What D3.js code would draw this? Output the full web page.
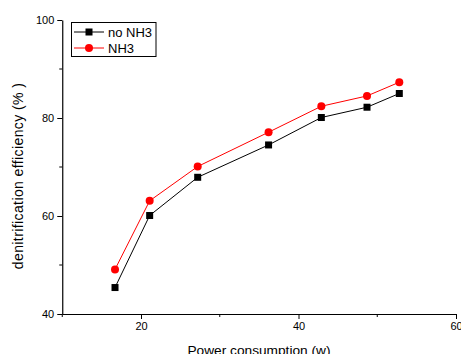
<!DOCTYPE html>
<html><head><meta charset="utf-8">
<script src="https://cdn.jsdelivr.net/npm/d3@7"></script>
<style>body{margin:0;background:#fff}svg{display:block;font-family:"Liberation Sans",Arial,sans-serif}</style>
</head><body><svg width="461" height="354"></svg>
<script>
const power = [16.7, 21.1, 27.2, 36.2, 42.9, 48.7, 52.8];
const noNH3 = [45.4, 60.1, 67.9, 74.5, 80.1, 82.2, 85.0];
const withNH3 = [49.1, 63.1, 70.1, 77.1, 82.4, 84.5, 87.3];
const xTicks = [20, 40, 60];
const yTicks = [40, 60, 80, 100];
const seriesNames = ["no NH3", "NH3"];

const svg = d3.select("svg");
const x = d3.scaleLinear().domain([10, 60]).range([62.25, 456]);
const y = d3.scaleLinear().domain([40, 100]).range([314, 20]);

// X axis
const xa = svg.append("g").attr("transform", "translate(0,314)");
xa.call(d3.axisBottom(x).tickValues(xTicks).tickSize(5).tickPadding(3).tickSizeOuter(0))
xa.selectAll(".tick text").attr("font-size", 11).attr("fill", "#000");
xa.append("g").selectAll("line").data([10, 30, 50]).join("line")
  .attr("x1", d => x(d)).attr("x2", d => x(d)).attr("y1", 0).attr("y2", 3).attr("stroke", "#000");

// Y axis
const ya = svg.append("g").attr("transform", "translate(62.25,0)");
ya.call(d3.axisLeft(y).tickValues(yTicks).tickSize(5).tickPadding(3).tickSizeOuter(0));
ya.selectAll(".tick text").attr("font-size", 11).attr("fill", "#000");
ya.append("g").selectAll("line").data([50, 70, 90]).join("line")
  .attr("x1", 0).attr("x2", -3).attr("y1", d => y(d)).attr("y2", d => y(d)).attr("stroke", "#000");
svg.selectAll(".domain").attr("stroke", "#000").attr("stroke-width", 1.2);

// Labels
svg.append("text").attr("x", 259).attr("y", 355).attr("text-anchor", "middle")
  .attr("font-size", 13.7).text("Power consumption (w)");
svg.append("text").attr("transform", "translate(23,176) rotate(-90)").attr("text-anchor", "middle")
  .attr("font-size", 14).attr("letter-spacing", 0.4).text("denitrification efficiency (% )");

const line = d3.line().x(d => x(d[0])).y(d => y(d[1]));
const s1 = power.map((p, i) => [p, noNH3[i]]);
const s2 = power.map((p, i) => [p, withNH3[i]]);

svg.append("path").attr("d", line(s1)).attr("fill", "none").attr("stroke", "#000").attr("stroke-width", 1);
svg.append("path").attr("d", line(s2)).attr("fill", "none").attr("stroke", "#ff0000").attr("stroke-width", 1);
svg.selectAll(".sq").data(s1).join("rect").attr("class", "sq")
  .attr("x", d => x(d[0]) - 3.5).attr("y", d => y(d[1]) - 3.5).attr("width", 7).attr("height", 7).attr("fill", "#000");
svg.selectAll(".ci").data(s2).join("circle").attr("class", "ci")
  .attr("cx", d => x(d[0])).attr("cy", d => y(d[1])).attr("r", 4).attr("fill", "#ff0000");

// Legend
const lg = svg.append("g");
lg.append("rect").attr("x", 71.5).attr("y", 22.5).attr("width", 84.5).attr("height", 34)
  .attr("fill", "#fff").attr("stroke", "#000").attr("stroke-width", 1);
const ly = [32, 48];
lg.append("line").attr("x1", 74).attr("x2", 104).attr("y1", ly[0]).attr("y2", ly[0]).attr("stroke", "#000");
lg.append("rect").attr("x", 85.5).attr("y", ly[0] - 3.5).attr("width", 7).attr("height", 7).attr("fill", "#000");
lg.append("line").attr("x1", 74).attr("x2", 104).attr("y1", ly[1]).attr("y2", ly[1]).attr("stroke", "#ff0000");
lg.append("circle").attr("cx", 89).attr("cy", ly[1]).attr("r", 4).attr("fill", "#ff0000");
seriesNames.forEach((n, i) => {
  lg.append("text").attr("x", 108).attr("y", ly[i] + 4.5).attr("font-size", 13).text(n);
});
</script></body></html>
